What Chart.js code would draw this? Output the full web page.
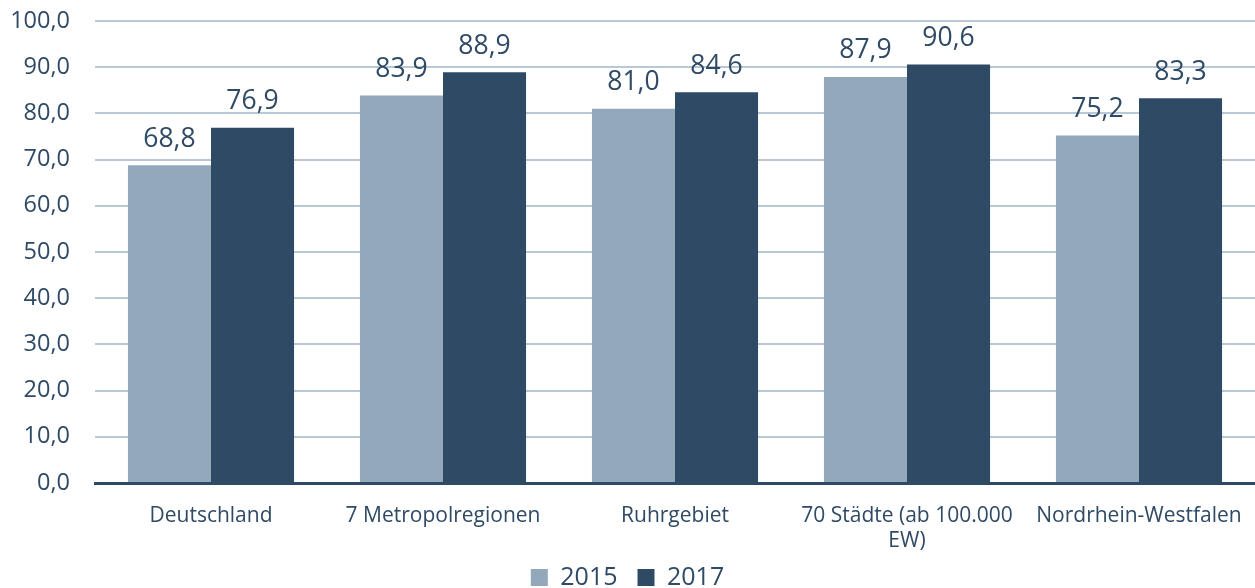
<!DOCTYPE html>
<html>
<head>
<meta charset="utf-8">
<script src="https://cdn.jsdelivr.net/npm/chart.js@4.4.0/dist/chart.umd.min.js"></script>
<style>
html,body{margin:0;padding:0;background:#fff;}
#wrap{width:1255px;height:588px;position:relative;}
</style>
</head>
<body>
<div id="wrap"><canvas id="c" width="1255" height="588"></canvas></div>
<script>
const categories = ['Deutschland', '7 Metropolregionen', 'Ruhrgebiet', ['70 Städte (ab 100.000', 'EW)'], 'Nordrhein-Westfalen'];
const seriesNames = ['2015', '2017'];
const values2015 = [68.8, 83.9, 81.0, 87.9, 75.2];
const values2017 = [76.9, 88.9, 84.6, 90.6, 83.3];
const yMin = 0, yMax = 100, yStep = 10;

const textColor = '#2F4A65';
const fontFamily = '"Open Sans", "DejaVu Sans", sans-serif';
const fmt = v => v.toFixed(1).replace('.', ',');

const dataLabels = {
  id: 'dataLabels',
  afterDatasetsDraw(chart) {
    const ctx = chart.ctx;
    ctx.save();
    ctx.font = '26.5px ' + fontFamily;
    ctx.fillStyle = textColor;
    ctx.textAlign = 'center';
    ctx.textBaseline = 'middle';
    chart.data.datasets.forEach((ds, i) => {
      const meta = chart.getDatasetMeta(i);
      meta.data.forEach((el, j) => {
        ctx.fillText(fmt(ds.data[j]), el.x, el.y - 26);
      });
    });
    ctx.restore();
  }
};

// let the wrapped x labels extend below the compact axis box
const unclipX = {
  id: 'unclipX',
  afterLayout(chart) { chart.scales.x.bottom = chart.height; }
};

new Chart(document.getElementById('c'), {
  type: 'bar',
  data: {
    labels: categories,
    datasets: [
      { label: seriesNames[0], data: values2015, backgroundColor: '#94A8BC', categoryPercentage: 0.716, barPercentage: 1.0 },
      { label: seriesNames[1], data: values2017, backgroundColor: '#2E4A64', categoryPercentage: 0.716, barPercentage: 1.0 }
    ]
  },
  options: {
    responsive: false,
    animation: false,
    devicePixelRatio: 1,
    layout: { padding: { top: 21, left: 0, right: 0, bottom: -12 } },
    plugins: {
      legend: {
        position: 'bottom',
        labels: {
          color: textColor,
          font: { family: fontFamily, size: 25 },
          boxWidth: 17, boxHeight: 17,
          padding: 20
        }
      },
      tooltip: { enabled: false }
    },
    scales: {
      y: {
        min: yMin, max: yMax,
        ticks: { stepSize: yStep, color: textColor, font: { family: fontFamily, size: 23.5 }, padding: 25, callback: v => fmt(v) },
        grid: { color: '#B9C8D7', lineWidth: 2, drawTicks: false },
        border: { display: false },
        afterFit(s) { s.width = 95; s.paddingTop = 10; s.paddingBottom = 10; }
      },
      x: {
        ticks: { color: textColor, font: { family: fontFamily, size: 21, lineHeight: 1.2 }, padding: 20, maxRotation: 0, autoSkip: false },
        grid: { display: false, drawTicks: false },
        border: { display: true, color: '#2E4A64', width: 3 },
        afterFit(s) { s.height = 62; s.paddingLeft = 0; s.paddingRight = 0; }
      }
    }
  },
  plugins: [dataLabels, unclipX]
});
</script>
</body>
</html>
